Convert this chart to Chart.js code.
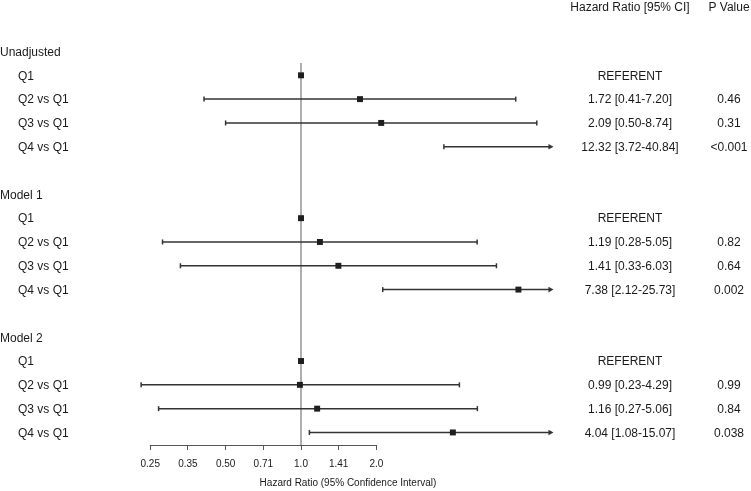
<!DOCTYPE html>
<html>
<head>
<meta charset="utf-8">
<script src="https://cdn.jsdelivr.net/npm/chart.js@4/dist/chart.umd.min.js"></script>
<style>
  html, body { margin: 0; padding: 0; background: #ffffff; }
  #wrap { width: 751px; height: 491px; }
</style>
</head>
<body>
<div id="wrap"><canvas id="c" width="751" height="491"></canvas></div>
<script>
// ---------------- data ----------------
const modelNames = ['Unadjusted', 'Model 1', 'Model 2'];
const rowLabels = ['Q1', 'Q2 vs Q1', 'Q3 vs Q1', 'Q4 vs Q1'];

const unadjHR   = [1, 1.72, 2.09, 12.32];
const unadjLow  = [null, 0.41, 0.50, 3.72];
const unadjHigh = [null, 7.20, 8.74, 40.84];
const unadjP    = ['', '0.46', '0.31', '<0.001'];

const model1HR   = [1, 1.19, 1.41, 7.38];
const model1Low  = [null, 0.28, 0.33, 2.12];
const model1High = [null, 5.05, 6.03, 25.73];
const model1P    = ['', '0.82', '0.64', '0.002'];

const model2HR   = [1, 0.99, 1.16, 4.04];
const model2Low  = [null, 0.23, 0.27, 1.08];
const model2High = [null, 4.29, 5.06, 15.07];
const model2P    = ['', '0.99', '0.84', '0.038'];

const tickValues = [0.25, 0.3536, 0.5, 0.7071, 1, 1.4142, 2];
const tickLabels = ['0.25', '0.35', '0.50', '0.71', '1.0', '1.41', '2.0'];

const referentText = 'REFERENT';
const colHeaderHR = 'Hazard Ratio [95% CI]';
const colHeaderP = 'P Value';
const xTitle = 'Hazard Ratio (95% Confidence Interval)';

const displayMax = 10; // CIs beyond this are drawn with an arrow

// ---------------- build ----------------
const models = [
  { hr: unadjHR, low: unadjLow, high: unadjHigh, p: unadjP },
  { hr: model1HR, low: model1Low, high: model1High, p: model1P },
  { hr: model2HR, low: model2Low, high: model2High, p: model2P }
];
const rows = []; // {y, model, idx}
models.forEach((m, g) => {
  m.hr.forEach((v, i) => rows.push({ y: g * 6 + 1 + i, m, i }));
});
const points = rows.filter(r => r.m.hr[r.i] <= displayMax).map(r => ({ x: r.m.hr[r.i], y: r.y }));

const FONT = '"Liberation Sans", Arial, Helvetica, sans-serif';
const TXT = '#1a1a1a';
const LINE = '#333333';
const HR_X = 630, P_X = 729, TEXT_DY = 1;

const forestPlugin = {
  id: 'forest',
  beforeDatasetsDraw(chart) {
    const { ctx, chartArea } = chart;
    const xs = chart.scales.x, ys = chart.scales.y;
    ctx.save();
    // reference line at 1
    const x1 = xs.getPixelForValue(1);
    ctx.strokeStyle = '#8c8c8c';
    ctx.lineWidth = 1.4;
    ctx.beginPath();
    ctx.moveTo(x1, ys.getPixelForValue(0.48));
    ctx.lineTo(x1, chartArea.bottom);
    ctx.stroke();
    // axis line (only between first and last tick)
    ctx.strokeStyle = '#555555';
    ctx.lineWidth = 1;
    ctx.beginPath();
    ctx.moveTo(xs.getPixelForValue(tickValues[0]) - 0.5, chartArea.bottom + 0.5);
    ctx.lineTo(xs.getPixelForValue(tickValues[tickValues.length - 1]) + 0.5, chartArea.bottom + 0.5);
    ctx.stroke();
    // confidence intervals
    ctx.strokeStyle = LINE;
    ctx.fillStyle = LINE;
    ctx.lineWidth = 1.5;
    rows.forEach(r => {
      const lo = r.m.low[r.i], hi = r.m.high[r.i];
      if (lo == null || hi == null) return;
      const y = ys.getPixelForValue(r.y);
      const xl = xs.getPixelForValue(lo);
      const clipped = hi > displayMax;
      const xr = xs.getPixelForValue(clipped ? displayMax : hi);
      ctx.beginPath();
      ctx.moveTo(xl, y);
      ctx.lineTo(clipped ? xr - 1 : xr, y);
      ctx.stroke();
      ctx.beginPath();
      ctx.moveTo(xl, y - 2.5);
      ctx.lineTo(xl, y + 2.5);
      ctx.stroke();
      if (clipped) {
        ctx.beginPath();
        ctx.moveTo(xr - 3, y - 2.8);
        ctx.lineTo(xr + 2, y);
        ctx.lineTo(xr - 3, y + 2.8);
        ctx.closePath();
        ctx.fill();
      } else {
        ctx.beginPath();
        ctx.moveTo(xr, y - 2.5);
        ctx.lineTo(xr, y + 2.5);
        ctx.stroke();
      }
    });
    ctx.restore();
  },
  afterDraw(chart) {
    const { ctx } = chart;
    const ys = chart.scales.y;
    ctx.save();
    ctx.fillStyle = TXT;
    ctx.font = '12px ' + FONT;
    ctx.textBaseline = 'middle';
    // column headers
    ctx.textAlign = 'center';
    const yh = ys.getPixelForValue(-1.9) + TEXT_DY;
    ctx.fillText(colHeaderHR, HR_X, yh);
    ctx.fillText(colHeaderP, P_X, yh);
    // group headers
    ctx.textAlign = 'left';
    modelNames.forEach((name, g) => {
      ctx.fillText(name, 0, ys.getPixelForValue(g * 6) + TEXT_DY);
    });
    rows.forEach(r => {
      const y = ys.getPixelForValue(r.y) + TEXT_DY;
      ctx.textAlign = 'left';
      ctx.fillText(rowLabels[r.i], 18, y);
      ctx.textAlign = 'center';
      const lo = r.m.low[r.i], hi = r.m.high[r.i];
      const txt = lo == null ? referentText
        : r.m.hr[r.i].toFixed(2) + ' [' + lo.toFixed(2) + '-' + hi.toFixed(2) + ']';
      ctx.fillText(txt, HR_X, y);
      if (r.m.p[r.i]) ctx.fillText(r.m.p[r.i], P_X, y);
    });
    ctx.restore();
  }
};

new Chart(document.getElementById('c'), {
  type: 'scatter',
  data: {
    datasets: [{
      data: points,
      pointStyle: 'rect',
      pointRadius: 4.2,
      pointHoverRadius: 4.2,
      pointBorderWidth: 0,
      backgroundColor: '#1e1e1e',
      borderColor: '#1e1e1e'
    }]
  },
  options: {
    responsive: false,
    devicePixelRatio: 1,
    animation: false,
    events: [],
    layout: { autoPadding: false, padding: { left: 130, right: 185, top: 0, bottom: 0 } },
    plugins: { legend: { display: false }, tooltip: { enabled: false } },
    scales: {
      x: {
        type: 'logarithmic',
        min: 0.2076,
        max: 11.43,
        afterBuildTicks: s => { s.ticks = tickValues.map(v => ({ value: v })); },
        afterFit: s => { s.height = 46; },
        border: { display: false },
        grid: { display: true, drawOnChartArea: false, drawTicks: true, tickLength: 5, color: '#555555', lineWidth: 1 },
        ticks: {
          autoSkip: false, maxRotation: 0, padding: 8,
          color: TXT, font: { family: FONT, size: 10 },
          callback: (v, i) => tickLabels[i]
        },
        title: {
          display: true, text: xTitle, color: TXT,
          font: { family: FONT, size: 10 }, padding: { top: 0, bottom: 1.5 }
        }
      },
      y: {
        type: 'linear',
        reverse: true,
        min: -2.163,
        max: 16.527,
        display: false
      }
    }
  },
  plugins: [forestPlugin]
});
</script>
</body>
</html>
